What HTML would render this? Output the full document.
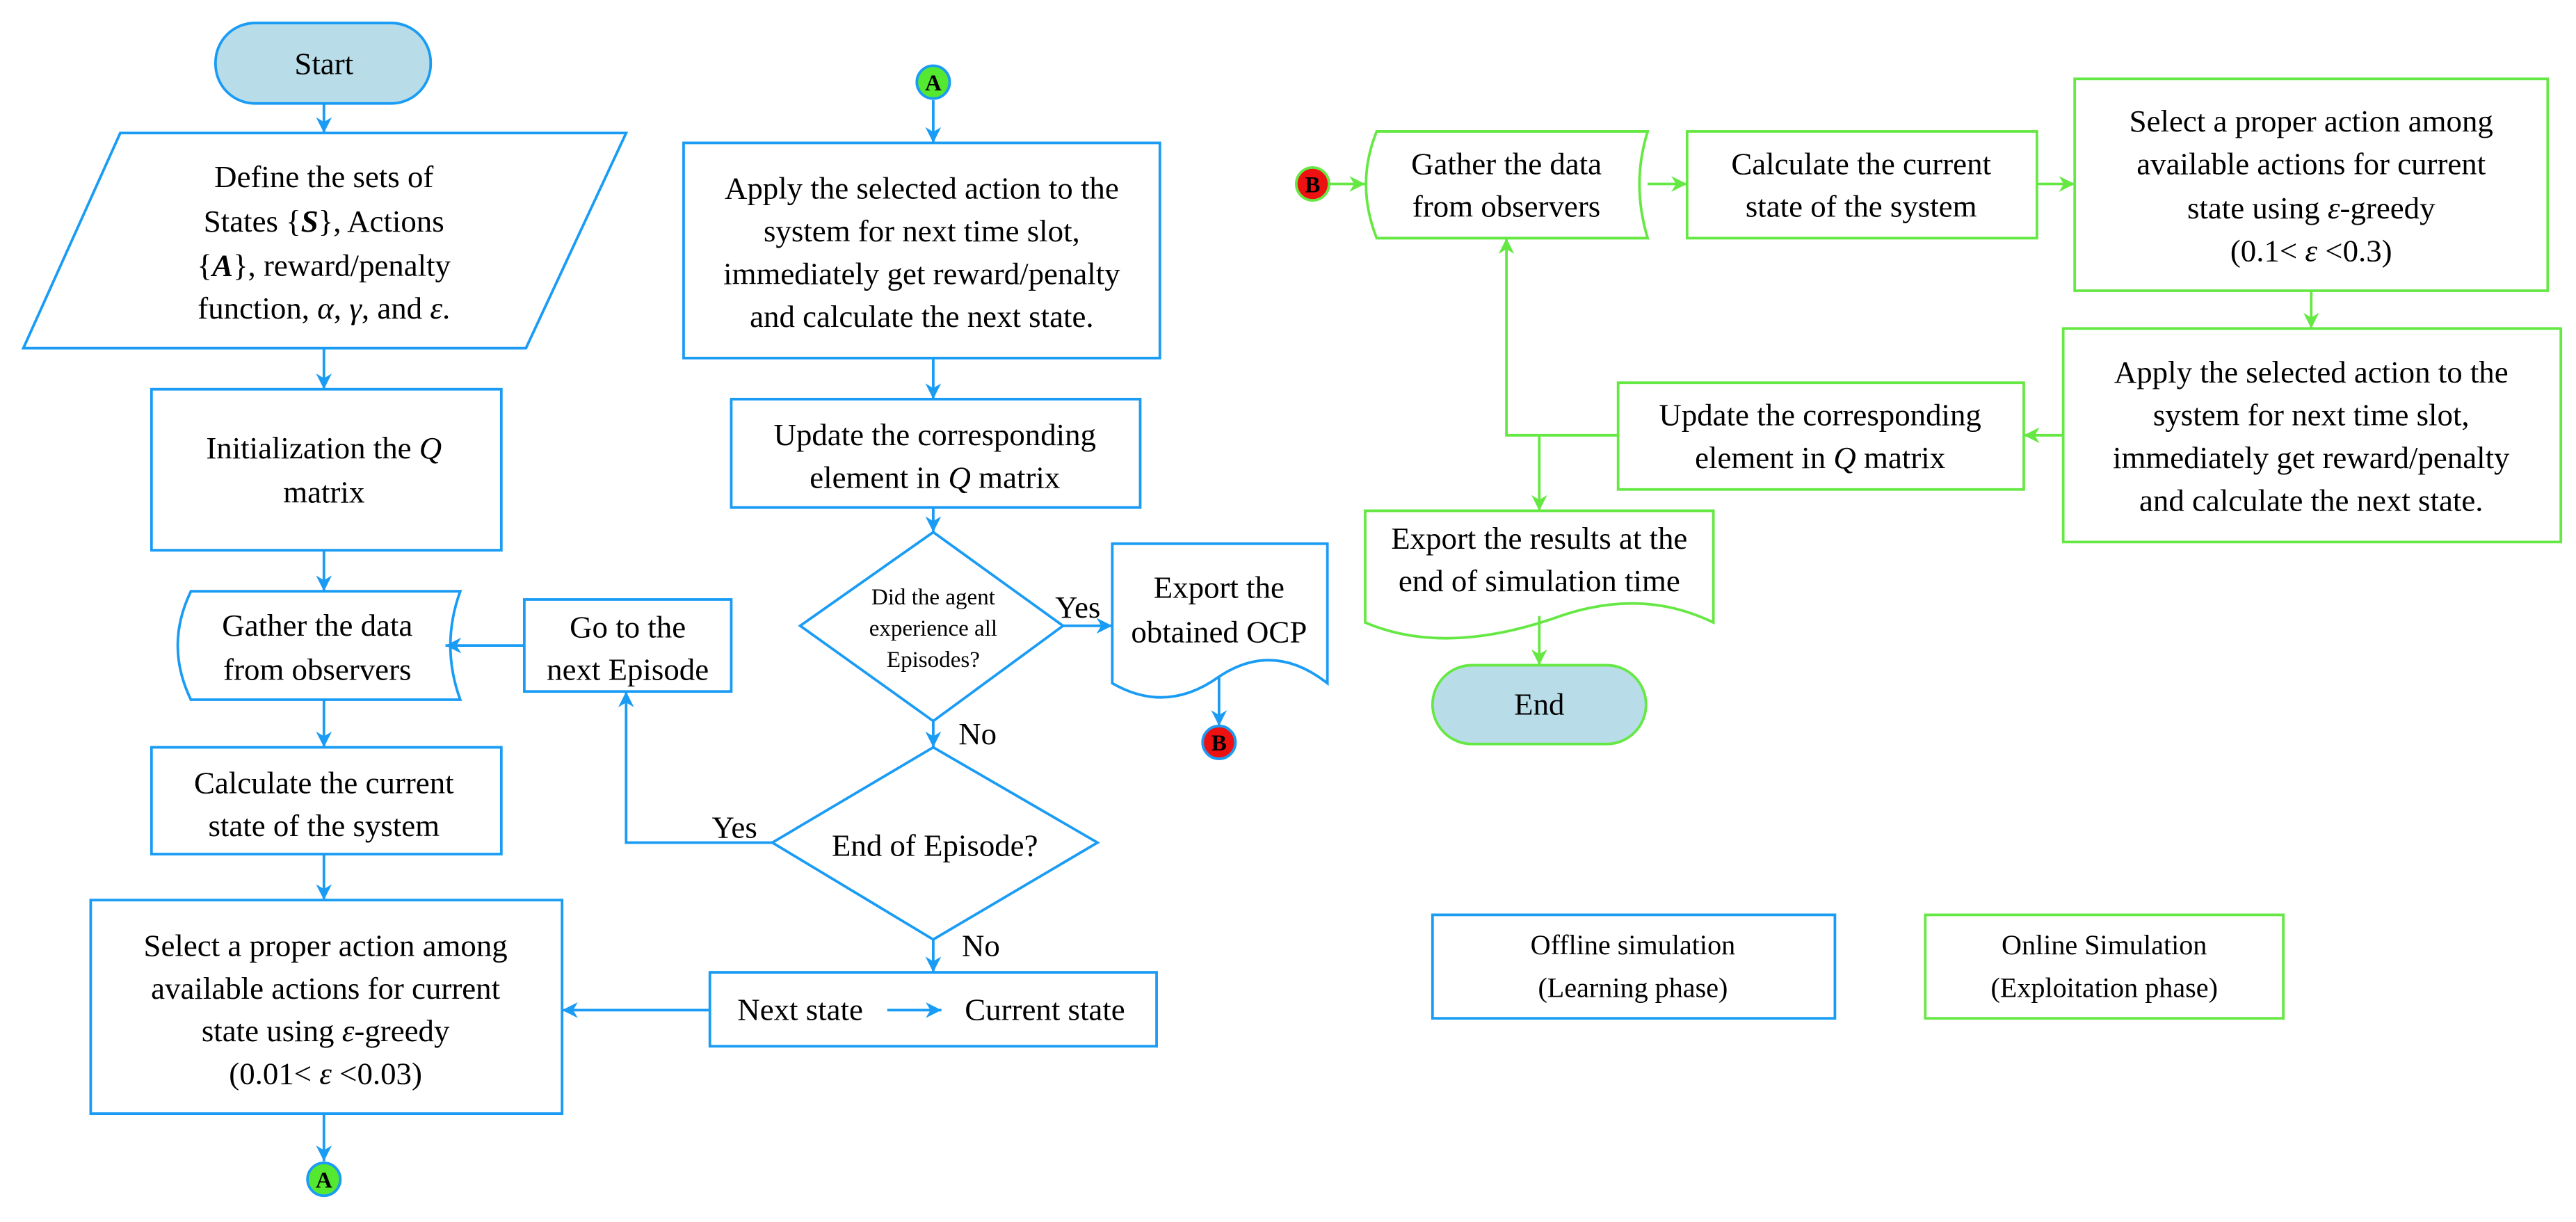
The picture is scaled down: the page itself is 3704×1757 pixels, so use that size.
<!DOCTYPE html>
<html><head><meta charset="utf-8"><style>
html,body{margin:0;padding:0;background:#fff;}
svg{display:block;}
text{font-family:"Liberation Serif",serif;fill:#000;}
</style></head><body>
<svg width="3704" height="1757" viewBox="0 0 1568 744" xmlns="http://www.w3.org/2000/svg">
<defs>
<marker id="ab" viewBox="0 0 10 10" refX="10" refY="5" markerWidth="6" markerHeight="6" orient="auto"><path d="M0,0 L10,5 L0,10 L3,5 z" fill="#1a9cf5"/></marker>
<marker id="ag" viewBox="0 0 10 10" refX="10" refY="5" markerWidth="6" markerHeight="6" orient="auto"><path d="M0,0 L10,5 L0,10 L3,5 z" fill="#66e844"/></marker>
</defs>
<g fill="none" stroke="#1a9cf5" stroke-width="1.6">
<rect x="131" y="14" width="131" height="49" rx="24" fill="#b8dde8"/>
<polygon points="73,81 381,81 320,212 14,212" fill="#fff"/>
<rect x="92" y="237" width="213" height="98"/>
<path d="M116,360 L280,360 Q268,393 280,426 L116,426 Q100,393 116,360 Z"/>
<rect x="92" y="455" width="213" height="65"/>
<rect x="55" y="548" width="287" height="130"/>
<rect x="319" y="365" width="126" height="56"/>
<rect x="416" y="87" width="290" height="131"/>
<rect x="445" y="243" width="249" height="66"/>
<polygon points="568,324 647,381 568,439 487,381"/>
<polygon points="568,455 668,513 568,572 470,513"/>
<rect x="432" y="592" width="272" height="45"/>
<path d="M677,331 L808,331 L808,416 Q775,390 742,412 Q710,435 677,416 Z"/>
<rect x="872" y="557" width="245" height="63"/>
<path d="M197,63 V81" marker-end="url(#ab)"/>
<path d="M197,212 V237" marker-end="url(#ab)"/>
<path d="M197,335 V360" marker-end="url(#ab)"/>
<path d="M197,426 V455" marker-end="url(#ab)"/>
<path d="M197,520 V548" marker-end="url(#ab)"/>
<path d="M197,678 V707" marker-end="url(#ab)"/>
<path d="M319,393 H271" marker-end="url(#ab)"/>
<path d="M470,513 H381 V421" marker-end="url(#ab)"/>
<path d="M568,61 V87" marker-end="url(#ab)"/>
<path d="M568,218 V243" marker-end="url(#ab)"/>
<path d="M568,309 V324" marker-end="url(#ab)"/>
<path d="M647,381 H677" marker-end="url(#ab)"/>
<path d="M568,439 V455" marker-end="url(#ab)"/>
<path d="M568,572 V592" marker-end="url(#ab)"/>
<path d="M432,615 H342" marker-end="url(#ab)"/>
<path d="M540,615 H573" marker-end="url(#ab)"/>
<path d="M742,412 V442" marker-end="url(#ab)"/>
</g>
<g fill="none" stroke="#66e844" stroke-width="1.6">
<path d="M838,80 L1003,80 Q993,112 1003,145 L838,145 Q825,112 838,80 Z"/>
<rect x="1027" y="80" width="213" height="65"/>
<rect x="1263" y="48" width="288" height="129"/>
<rect x="1256" y="200" width="303" height="130"/>
<rect x="985" y="233" width="247" height="65"/>
<path d="M831,311 L1043,311 L1043,379 Q1000,358 950,375 Q880,400 831,379 Z"/>
<rect x="872" y="405" width="130" height="48" rx="24" fill="#b8dde8"/>
<rect x="1172" y="557" width="218" height="63"/>
<path d="M809,112 H831" marker-end="url(#ag)"/>
<path d="M1003,112 H1027" marker-end="url(#ag)"/>
<path d="M1240,112 H1263" marker-end="url(#ag)"/>
<path d="M1407,177 V200" marker-end="url(#ag)"/>
<path d="M1256,265 H1232" marker-end="url(#ag)"/>
<path d="M985,265 H917 V145" marker-end="url(#ag)"/>
<path d="M937,265 V311" marker-end="url(#ag)"/>
<path d="M937,375 V405" marker-end="url(#ag)"/>
</g>
<g stroke-width="1.6">
<circle cx="197" cy="718" r="10" fill="#55e830" stroke="#1a9cf5"/>
<circle cx="568" cy="50" r="10" fill="#55e830" stroke="#1a9cf5"/>
<circle cx="742" cy="452" r="10" fill="#ee1111" stroke="#1a9cf5"/>
<circle cx="799" cy="112" r="10" fill="#ee1111" stroke="#66e844"/>
</g>
<g font-size="14" font-weight="bold" text-anchor="middle">
<text x="197" y="723">A</text><text x="568" y="55">A</text><text x="742" y="457">B</text><text x="799" y="117">B</text>
</g>
<g font-size="19" text-anchor="middle">
<text x="197" y="45">Start</text>
<text x="197" y="114">Define the sets of</text>
<text x="197" y="141">States {<tspan font-weight="bold" font-style="italic">S</tspan>}, Actions</text>
<text x="197" y="168">{<tspan font-weight="bold" font-style="italic">A</tspan>}, reward/penalty</text>
<text x="197" y="194">function, <tspan font-style="italic">α</tspan>, <tspan font-style="italic">γ</tspan>, and <tspan font-style="italic">ε</tspan>.</text>
<text x="197" y="279">Initialization the <tspan font-style="italic">Q</tspan></text>
<text x="197" y="306">matrix</text>
<text x="193" y="387">Gather the data</text>
<text x="193" y="414">from observers</text>
<text x="197" y="483">Calculate the current</text>
<text x="197" y="509">state of the system</text>
<text x="198" y="582">Select a proper action among</text>
<text x="198" y="608">available actions for current</text>
<text x="198" y="634">state using <tspan font-style="italic">ε</tspan>-greedy</text>
<text x="198" y="660">(0.01&lt; <tspan font-style="italic">ε</tspan> &lt;0.03)</text>
<text x="382" y="388">Go to the</text>
<text x="382" y="414">next Episode</text>
<text x="561" y="121">Apply the selected action to the</text>
<text x="561" y="147">system for next time slot,</text>
<text x="561" y="173">immediately get reward/penalty</text>
<text x="561" y="199">and calculate the next state.</text>
<text x="569" y="271">Update the corresponding</text>
<text x="569" y="297">element in <tspan font-style="italic">Q</tspan> matrix</text>
<text x="569" y="521">End of Episode?</text>
<text x="487" y="621">Next state</text>
<text x="636" y="621">Current state</text>
<text x="742" y="364">Export the</text>
<text x="742" y="391">obtained OCP</text>
<text x="447" y="510">Yes</text>
<text x="656" y="376">Yes</text>
<text x="595" y="453">No</text>
<text x="597" y="582">No</text>
<text x="917" y="106">Gather the data</text>
<text x="917" y="132">from observers</text>
<text x="1133" y="106">Calculate the current</text>
<text x="1133" y="132">state of the system</text>
<text x="1407" y="80">Select a proper action among</text>
<text x="1407" y="106">available actions for current</text>
<text x="1407" y="133">state using <tspan font-style="italic">ε</tspan>-greedy</text>
<text x="1407" y="159">(0.1&lt; <tspan font-style="italic">ε</tspan> &lt;0.3)</text>
<text x="1407" y="233">Apply the selected action to the</text>
<text x="1407" y="259">system for next time slot,</text>
<text x="1407" y="285">immediately get reward/penalty</text>
<text x="1407" y="311">and calculate the next state.</text>
<text x="1108" y="259">Update the corresponding</text>
<text x="1108" y="285">element in <tspan font-style="italic">Q</tspan> matrix</text>
<text x="937" y="334">Export the results at the</text>
<text x="937" y="360">end of simulation time</text>
<text x="937" y="435">End</text>
</g>
<g font-size="17" text-anchor="middle">
<text x="994" y="581">Offline simulation</text>
<text x="994" y="607">(Learning phase)</text>
<text x="1281" y="581">Online Simulation</text>
<text x="1281" y="607">(Exploitation phase)</text>
</g>
<g font-size="14" text-anchor="middle">
<text x="568" y="368">Did the agent</text>
<text x="568" y="387">experience all</text>
<text x="568" y="406">Episodes?</text>
</g>
</svg>
</body></html>
